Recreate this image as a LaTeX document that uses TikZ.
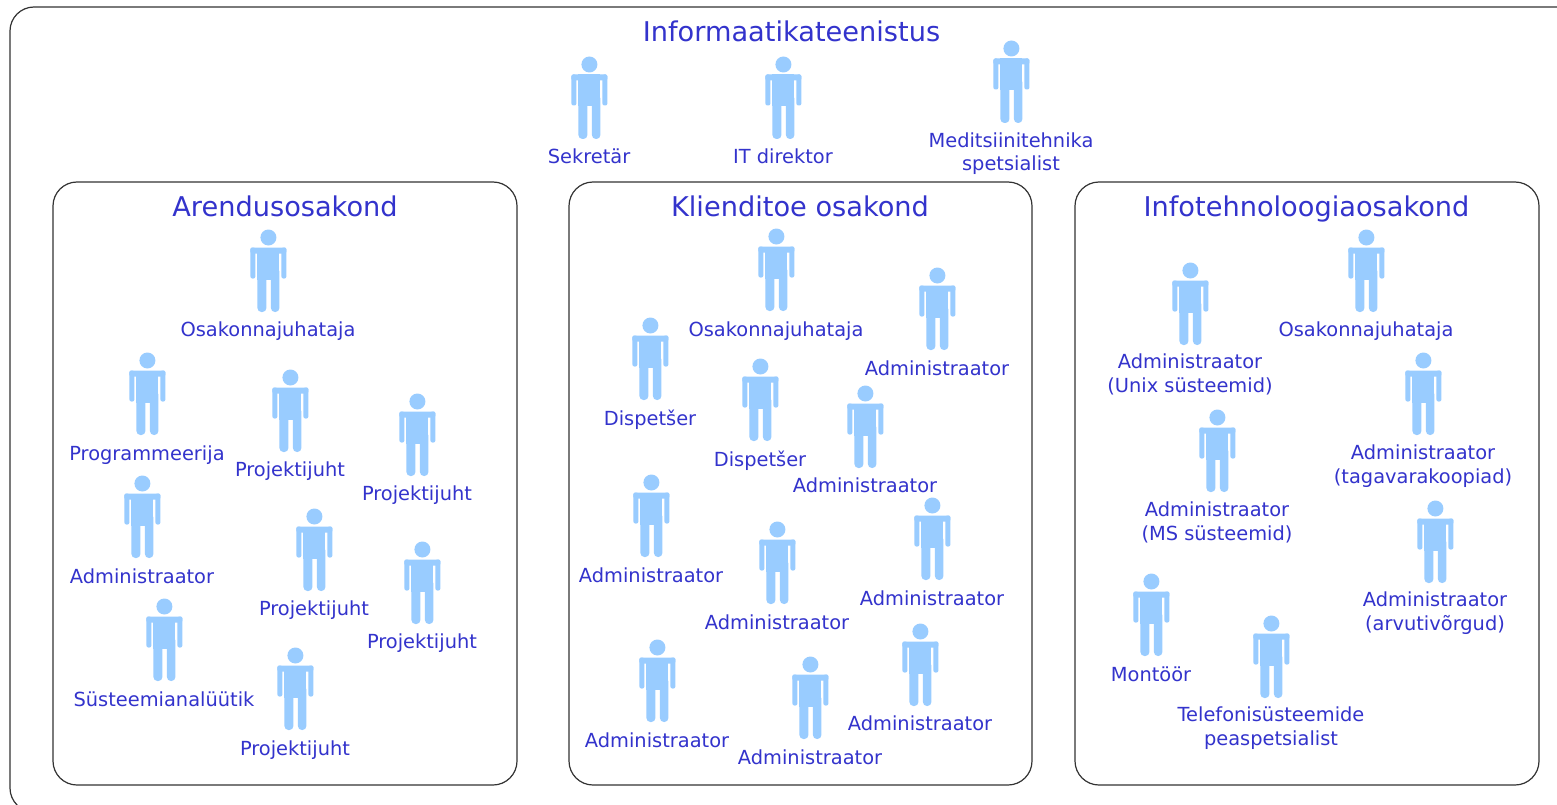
\documentclass[tikz,border=0pt]{standalone}
\usepackage{fontspec}
\setmainfont{DejaVu Sans}
\definecolor{txt}{HTML}{3333CC}
\definecolor{icon}{HTML}{99CCFF}
\definecolor{edge}{HTML}{333333}
\tikzset{
  panel/.style={draw=edge,line width=1.2pt,rounded corners=24pt,outer sep=0pt,inner sep=0pt,anchor=north west},
  title/.style={text=txt,font=\fontsize{27.2}{32}\selectfont,inner sep=0pt,anchor=base},
  lbl/.style={text=txt,font=\fontsize{19.4}{23.5}\selectfont,align=center,inner sep=0pt,yshift=-2.3pt},
  head/.style={circle,fill=icon,minimum size=16pt,inner sep=0pt},
}
\newcommand{\persona}[6]{%
  % name, head x, head y, label x, label y, text
  \begin{scope}[shift={(#2+0.4,#3+0.5)}]
    \node[head] (#1) at (0,0) {};
    \fill[icon,rounded corners=2pt] (-18,10) rectangle (-13,41);
    \fill[icon,rounded corners=2pt] (13,10) rectangle (18,41);
    \fill[icon,rounded corners=1.5pt] (-18,10) rectangle (18,16);
    \fill[icon] (-11,10) rectangle (11,42);
    \fill[icon,rounded corners=4pt] (-11,30) rectangle (-2,74.5);
    \fill[icon,rounded corners=4pt] (2.5,30) rectangle (11,74.5);
  \end{scope}
  \node[lbl] (#1l) at (#4,#5) {\strut #6\strut};
}
\begin{document}
\begin{tikzpicture}[x=1pt,y=-1pt]
\useasboundingbox (0,0) rectangle (1557,805);
\clip (0,0) rectangle (1557,805);
\fill[white] (0,0) rectangle (1557,805);
\node[panel,minimum width=1590pt,minimum height=805pt] (outer) at (10,7) {};
\node[panel,minimum width=464pt,minimum height=603pt] (arendus) at (53,182) {};
\node[panel,minimum width=463pt,minimum height=603pt] (klient) at (569,182) {};
\node[panel,minimum width=464pt,minimum height=603pt] (info) at (1075,182) {};
\node[title] (t0) at (791.5,42) {Informaatikateenistus};
\node[title] (t1) at (285,216) {Arendusosakond};
\node[title] (t2) at (800,216) {Klienditoe osakond};
\node[title] (t3) at (1306.5,216) {Infotehnoloogiaosakond};
\persona{a}{589}{64}{589}{157}{Sekretär}
\persona{b}{783}{64}{783}{157}{IT direktor}
\persona{c}{1011}{48}{1011}{152}{Meditsiinitehnika\\spetsialist}
\persona{d1}{268}{237}{268}{329}{Osakonnajuhataja}
\persona{d2}{147}{360}{147}{453}{Programmeerija}
\persona{d3}{290}{377}{290}{469}{Projektijuht}
\persona{d4}{417}{401}{417}{493}{Projektijuht}
\persona{d5}{142}{483}{142}{576}{Administraator}
\persona{d6}{314}{516}{314}{608}{Projektijuht}
\persona{d7}{422}{549}{422}{641}{Projektijuht}
\persona{d8}{164}{606}{164}{699}{Süsteemianalüütik}
\persona{d9}{295}{655}{295}{748}{Projektijuht}
\persona{k1}{776}{236}{776}{329}{Osakonnajuhataja}
\persona{k2}{937}{275}{937}{368}{Administraator}
\persona{k3}{650}{325}{650}{418}{Dispetšer}
\persona{k4}{760}{366}{760}{459}{Dispetšer}
\persona{k5}{865}{393}{865}{485}{Administraator}
\persona{k6}{651}{482}{651}{575}{Administraator}
\persona{k7}{777}{529}{777}{622}{Administraator}
\persona{k8}{932}{505}{932}{598}{Administraator}
\persona{k9}{657}{647}{657}{740}{Administraator}
\persona{k10}{810}{664}{810}{757}{Administraator}
\persona{k11}{920}{631}{920}{723}{Administraator}
\persona{i1}{1366}{237}{1366}{329}{Osakonnajuhataja}
\persona{i2}{1190}{270}{1190}{373.5}{Administraator\\(Unix süsteemid)}
\persona{i3}{1423}{360}{1423}{464.5}{Administraator\\(tagavarakoopiad)}
\persona{i4}{1217}{417}{1217}{521.5}{Administraator\\(MS süsteemid)}
\persona{i5}{1435}{508}{1435}{611.5}{Administraator\\(arvutivõrgud)}
\persona{i6}{1151}{581}{1151}{674}{Montöör}
\persona{i7}{1271}{623}{1271}{726.5}{Telefonisüsteemide\\peaspetsialist}
\end{tikzpicture}
\end{document}
